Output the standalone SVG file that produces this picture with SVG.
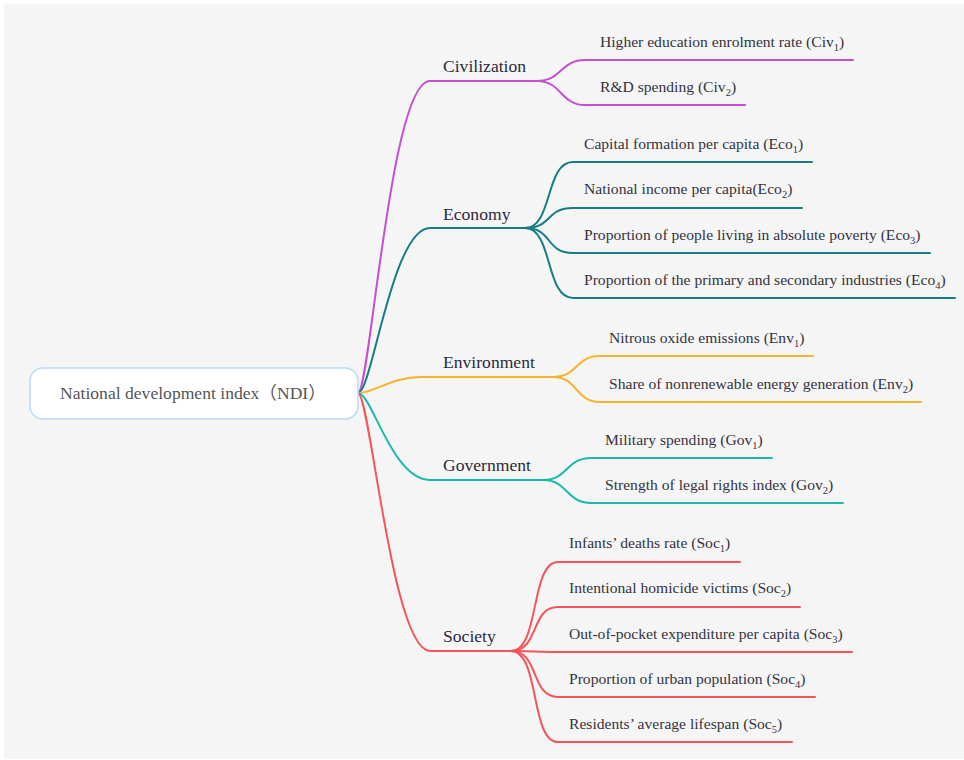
<svg xmlns="http://www.w3.org/2000/svg" width="964" height="760" viewBox="0 0 964 760">
<style>
.lbl{font-family:'Liberation Serif','DejaVu Serif',serif;font-size:17.6px;fill:#2b2b3a}
.leaf{font-family:'Liberation Serif','DejaVu Serif',serif;font-size:15.6px;fill:#333340}
.sub{font-size:10.5px}
.root{font-family:'Liberation Serif','DejaVu Serif','Noto Sans CJK SC',serif;font-size:17.6px;fill:#555}
.c{fill:none;stroke-width:2;stroke-linecap:round}
.civ{stroke:#c44fd1}.eco{stroke:#167d82}.env{stroke:#f8b22c}.gov{stroke:#1cb8ac}.soc{stroke:#f4545a}
</style>
<rect x="0" y="0" width="964" height="760" fill="#ffffff"/>
<rect x="4" y="4" width="960" height="755" fill="#f5f5f5"/>
<g id="connectors">
<path class="c civ" d="M358,393 C370,393 390,81 430,81 L537,81"/>
<path class="c civ" d="M537,81 C562,81 560,60 585,60 L853,60"/>
<path class="c civ" d="M537,81 C562,81 560,105 585,105 L745,105"/>
<path class="c eco" d="M358,393 C372,393 392,228 430,228 L525,228"/>
<path class="c eco" d="M525,228 C553,228 545,162 573,162 L812,162"/>
<path class="c eco" d="M525,228 C553,228 545,208 573,208 L802,208"/>
<path class="c eco" d="M525,228 C553,228 545,253 573,253 L930,253"/>
<path class="c eco" d="M525,228 C553,228 545,298 573,298 L955,298"/>
<path class="c env" d="M358,393 C375,393 390,377 422,377 L553,377"/>
<path class="c env" d="M553,377 C578,377 575,356 600,356 L813,356"/>
<path class="c env" d="M553,377 C578,377 575,402 600,402 L921,402"/>
<path class="c gov" d="M358,393 C372,393 392,480 430,480 L543,480"/>
<path class="c gov" d="M543,480 C568,480 566,458 591,458 L772,458"/>
<path class="c gov" d="M543,480 C568,480 566,503 591,503 L843,503"/>
<path class="c soc" d="M358,393 C370,393 392,651 430,651 L511,651"/>
<path class="c soc" d="M511,651 C540,651 530,562 558,562 L740,562"/>
<path class="c soc" d="M511,651 C540,651 530,607 558,607 L800,607"/>
<path class="c soc" d="M511,651 C540,651 530,652 558,652 L852,652"/>
<path class="c soc" d="M511,651 C540,651 530,697 558,697 L815,697"/>
<path class="c soc" d="M511,651 C540,651 530,742 558,742 L792,742"/>
</g>
<g id="root">
<rect x="30" y="368" width="328" height="51" rx="13" fill="#ffffff" stroke="#b9d9fa" stroke-width="1.5"/>
<text class="root" x="60" y="399">National development index（NDI）</text>
</g>
<g id="civilization"><text class="lbl" x="443" y="72">Civilization</text></g>
<g id="civ1"><text class="leaf" x="600" y="46.5">Higher education enrolment rate (Civ<tspan class="sub" dy="4">1</tspan><tspan dy="-4">)</tspan></text></g>
<g id="civ2"><text class="leaf" x="600" y="92">R&amp;D spending (Civ<tspan class="sub" dy="4">2</tspan><tspan dy="-4">)</tspan></text></g>
<g id="economy"><text class="lbl" x="443" y="219.5">Economy</text></g>
<g id="eco1"><text class="leaf" x="584" y="148.5">Capital formation per capita (Eco<tspan class="sub" dy="4">1</tspan><tspan dy="-4">)</tspan></text></g>
<g id="eco2"><text class="leaf" x="584" y="194">National income per capita(Eco<tspan class="sub" dy="4">2</tspan><tspan dy="-4">)</tspan></text></g>
<g id="eco3"><text class="leaf" x="584" y="239.5">Proportion of people living in absolute poverty (Eco<tspan class="sub" dy="4">3</tspan><tspan dy="-4">)</tspan></text></g>
<g id="eco4"><text class="leaf" x="584" y="285">Proportion of the primary and secondary industries (Eco<tspan class="sub" dy="4">4</tspan><tspan dy="-4">)</tspan></text></g>
<g id="environment"><text class="lbl" x="443" y="368">Environment</text></g>
<g id="env1"><text class="leaf" x="609" y="342.5">Nitrous oxide emissions (Env<tspan class="sub" dy="4">1</tspan><tspan dy="-4">)</tspan></text></g>
<g id="env2"><text class="leaf" x="609" y="388.5">Share of nonrenewable energy generation (Env<tspan class="sub" dy="4">2</tspan><tspan dy="-4">)</tspan></text></g>
<g id="government"><text class="lbl" x="443" y="471">Government</text></g>
<g id="gov1"><text class="leaf" x="605" y="444.5">Military spending (Gov<tspan class="sub" dy="4">1</tspan><tspan dy="-4">)</tspan></text></g>
<g id="gov2"><text class="leaf" x="605" y="489.5">Strength of legal rights index (Gov<tspan class="sub" dy="4">2</tspan><tspan dy="-4">)</tspan></text></g>
<g id="society"><text class="lbl" x="443" y="642">Society</text></g>
<g id="soc1"><text class="leaf" x="569" y="547.5">Infants’ deaths rate (Soc<tspan class="sub" dy="4">1</tspan><tspan dy="-4">)</tspan></text></g>
<g id="soc2"><text class="leaf" x="569" y="593">Intentional homicide victims (Soc<tspan class="sub" dy="4">2</tspan><tspan dy="-4">)</tspan></text></g>
<g id="soc3"><text class="leaf" x="569" y="638.5">Out-of-pocket expenditure per capita (Soc<tspan class="sub" dy="4">3</tspan><tspan dy="-4">)</tspan></text></g>
<g id="soc4"><text class="leaf" x="569" y="684">Proportion of urban population (Soc<tspan class="sub" dy="4">4</tspan><tspan dy="-4">)</tspan></text></g>
<g id="soc5"><text class="leaf" x="569" y="729">Residents’ average lifespan (Soc<tspan class="sub" dy="4">5</tspan><tspan dy="-4">)</tspan></text></g>
</svg>
